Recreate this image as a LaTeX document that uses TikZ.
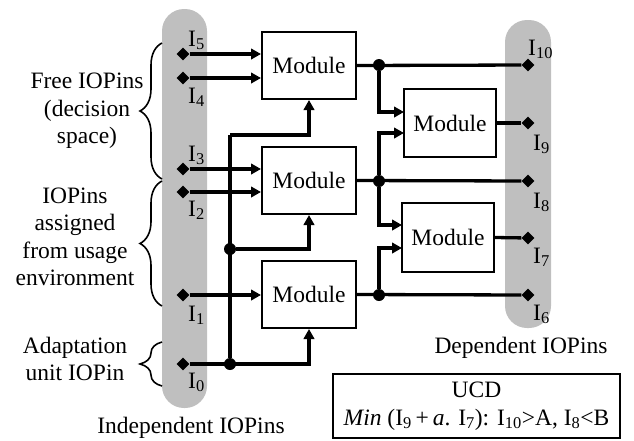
\documentclass[tikz,border=0pt]{standalone}
\usepackage{fontspec}
\setmainfont{Liberation Serif}
\usetikzlibrary{positioning,arrows.meta,shapes.geometric,decorations.pathreplacing}

\tikzset{
  every node/.style={font=\fontsize{23.5}{27.5}\selectfont},
  modbox/.style={draw,line width=2pt,minimum width=94pt,minimum height=67pt,inner sep=0pt},
  wire/.style={line width=3.3pt},
  arr/.style={wire,-{Triangle[length=10pt,width=10.5pt]}},
  iopin/.style={diamond,fill=black,minimum size=13pt,inner sep=0pt},
  junct/.style={circle,fill=black,minimum size=12pt,inner sep=0pt},
  pinlbl/.style={anchor=base west,inner sep=0pt},
  bar/.style={fill=black!25,rounded corners=22pt},
  grp/.style={decorate,decoration={brace,amplitude=22pt},line width=1.6pt},
}

\begin{document}
\begin{tikzpicture}[x=1pt,y=-1pt]
  \useasboundingbox (0,0) rectangle (634,440);

  % grey pin bars
  \fill[bar] (162,9) rectangle (207,408);
  \fill[bar] (505,20) rectangle (551,328);

  % modules
  \node[modbox] (m1) at (309,65.5) {Module};
  \node[modbox] (m2) at (309,180.5) {Module};
  \node[modbox] (m3) at (309,294.5) {Module};
  \node[modbox,minimum width=92pt,minimum height=68pt] (m4) at (450,123) {Module};
  \node[modbox,minimum width=92pt,minimum height=69pt] (m5) at (448,237.5) {Module};

  % independent pins
  \node[iopin] (p5) at (183,54) {};
  \node[iopin] (p4) at (183,78) {};
  \node[iopin] (p3) at (183,169) {};
  \node[iopin] (p2) at (183,192) {};
  \node[iopin] (p1) at (183,295) {};
  \node[iopin] (p0) at (183,364) {};

  % dependent pins
  \node[iopin] (p10) at (528,65) {};
  \node[iopin] (p9) at (528,123) {};
  \node[iopin] (p8) at (528,181) {};
  \node[iopin] (p7) at (528,238) {};
  \node[iopin] (p6) at (528,295) {};

  % junctions
  \node[junct] (b0) at (230,364) {};
  \node[junct] (b1) at (230,249) {};
  \coordinate (bt) at (230,135);
  \node[junct] (d10) at (379,65) {};
  \node[junct] (d8) at (379,181) {};
  \node[junct] (d6) at (379,295) {};
  \coordinate (m4a) at (404,112);
  \coordinate (m4b) at (404,133);
  \coordinate (m5a) at (402,225);
  \coordinate (m5b) at (402,248);

  % inputs
  \draw[arr] (p5) -- (p5 -| m1.west);
  \draw[arr] (p4) -- (p4 -| m1.west);
  \draw[arr] (p3) -- (p3 -| m2.west);
  \draw[arr] (p2) -- (p2 -| m2.west);
  \draw[arr] (p1) -- (p1 -| m3.west);
  \draw[arr] (p0) -| (m3.south);
  \draw[wire] (b0) -- (bt);
  \draw[arr] (bt) -| (m1.south);
  \draw[arr] (b1) -| (m2.south);

  % outputs
  \draw[wire] (m1.east) -- (p10);
  \draw[wire] (m2.east) -- (p8);
  \draw[wire] (m3.east) -- (p6);
  \draw[wire] (m4.east) -- (p9);
  \draw[wire] (m5.east) -- (p7);
  \draw[arr] (d10) |- (m4a);
  \draw[arr] (d8) |- (m4b);
  \draw[arr] (d8) |- (m5a);
  \draw[arr] (d6) |- (m5b);

  % pin labels
  \node[pinlbl] (l5) at (188,46) {I\textsubscript{5}};
  \node[pinlbl] (l4) at (188,103) {I\textsubscript{4}};
  \node[pinlbl] (l3) at (188,161) {I\textsubscript{3}};
  \node[pinlbl] (l2) at (188,216) {I\textsubscript{2}};
  \node[pinlbl] (l1) at (188,321) {I\textsubscript{1}};
  \node[pinlbl] (l0) at (188,388) {I\textsubscript{0}};
  \node[pinlbl] (l10) at (528,55) {I\textsubscript{10}};
  \node[pinlbl] (l9) at (533,150) {I\textsubscript{9}};
  \node[pinlbl] (l8) at (533,208) {I\textsubscript{8}};
  \node[pinlbl] (l7) at (533,263) {I\textsubscript{7}};
  \node[pinlbl] (l6) at (533,320) {I\textsubscript{6}};

  % groups
  \draw[grp] (162,179) -- (162,43);
  \draw[grp] (162,306) -- (162,181);
  \draw[grp] (162,386) -- (162,342);
  \node[align=center,inner sep=0pt] (free) at (87,111) {Free IOPins\\(decision\\space)};
  \node[align=center,inner sep=0pt] (env) at (75,237) {IOPins\\assigned\\from usage\\environment};
  \node[align=center,inner sep=0pt] (adapt) at (75,359) {Adaptation\\unit IOPin};

  \node[anchor=base,inner sep=0pt] (indep) at (191,433) {Independent IOPins};
  \node[anchor=base,inner sep=0pt] (dep) at (521,353) {Dependent IOPins};

  % constraint
  \node[draw,line width=1.6pt,minimum width=287pt,minimum height=64pt,align=center,inner sep=0pt]
    (ucd) at (476.5,406) {UCD\\\textit{Min} (I\textsubscript{9}\,+\,\textit{a}. I\textsubscript{7}): I\textsubscript{10}>A, I\textsubscript{8}<B};
\end{tikzpicture}
\end{document}
